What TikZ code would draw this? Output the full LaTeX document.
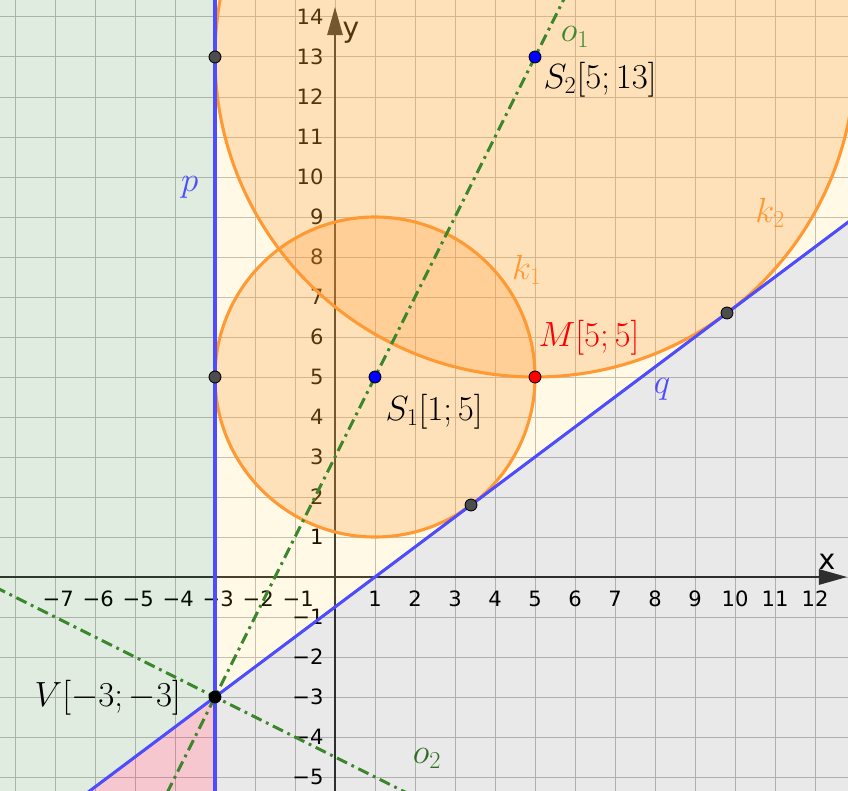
\documentclass[tikz,border=0pt]{standalone}
\usepackage{fontspec}
\newfontfamily\ggbsans{DejaVu Sans}
\usetikzlibrary{arrows.meta}
\definecolor{ggbblue}{RGB}{77,77,255}
\definecolor{ggborange}{RGB}{255,153,51}
\definecolor{ggbgreen}{RGB}{60,135,45}
\definecolor{ggbpoint}{RGB}{77,77,77}
\definecolor{ggbgrid}{RGB}{192,192,192}
\definecolor{regiongreen}{RGB}{0,100,0}
\definecolor{regionyellow}{RGB}{255,200,0}
\definecolor{regionpink}{RGB}{220,20,60}

\begin{document}
\begin{tikzpicture}[>=Latex,
  gridline/.style={draw=ggbgrid,line width=0.7pt},
  axisline/.style={draw=black!80,line width=1pt,-{Triangle[length=20pt,width=11pt]}},
  ticklbl/.style={font=\ggbsans\fontsize{15}{15}\selectfont,inner sep=0pt},
  axislbl/.style={font=\ggbsans\fontsize{20}{20}\selectfont,inner sep=0pt},
  tanline/.style={draw=ggbblue,line width=2.2pt},
  symline/.style={draw=ggbgreen,line width=2.1pt,dash pattern=on 8pt off 3.5pt on 2pt off 3.5pt},
  kcircle/.style={draw=ggborange,line width=2.2pt,fill=ggborange,fill opacity=0.25},
  dotpt/.style={circle,draw=black,line width=0.6pt,inner sep=0pt,minimum size=8.5pt},
  mathlbl/.style={font=\fontsize{24}{28}\selectfont,inner sep=0pt}]
\useasboundingbox (-8.375,-5.325) rectangle (12.825,14.425);
\clip (-8.375,-5.325) rectangle (12.825,14.425);

\foreach \gx in {-8,...,12} \draw[gridline] (\gx,-5.4) -- (\gx,14.5);
\foreach \gy in {-5,...,14} \draw[gridline] (-8.4,\gy) -- (12.9,\gy);
\coordinate (x_from) at (-8.4,0);
\coordinate (x_to) at (12.8,0);
\coordinate (y_from) at (0,-5.4);
\coordinate (y_to) at (0,14.25);
\draw[axisline] (x_from) -- (x_to);
\draw[axisline] (y_from) -- (y_to);
\node[axislbl] (lbl_x) at (12.3,0.37) {x};
\node[axislbl] (lbl_y) at (0.4,13.6) {y};
\foreach \gx in {1,...,12} \node[ticklbl] (xt_\gx) at (\gx,-0.55) {\gx};
\foreach \gx in {1,...,7} \node[ticklbl] (xtm_\gx) at (-\gx+0.08,-0.55) {−\gx};
\foreach \gy in {1,...,14} \node[ticklbl,anchor=east] (yt_\gy) at (-0.28,\gy) {\gy};
\foreach \gy in {1,...,5} \node[ticklbl,anchor=east] (ytm_\gy) at (-0.28,-\gy) {−\gy};

\fill[regiongreen,opacity=0.125] (-8.4,14.5) -- (-3,14.5) -- (-3,-3) -- (-6.2,-5.4) -- (-8.4,-5.4) -- cycle;
\fill[regionpink,opacity=0.24] (-3,-3) -- (-3,-5.4) -- (-6.2,-5.4) -- cycle;
\fill[regionyellow,opacity=0.1] (-3,14.5) -- (12.9,14.5) -- (12.9,8.925) -- (-3,-3) -- cycle;
\fill[black,opacity=0.086] (-3,-3) -- (12.9,8.925) -- (12.9,-5.4) -- (-3,-5.4) -- cycle;

\coordinate (S1) at (1,5);
\coordinate (S2) at (5,13);
\draw[kcircle] (S1) circle (4);
\draw[kcircle] (S2) circle (8);

\coordinate (p_lo) at (-3,-5.4);
\coordinate (p_hi) at (-3,14.5);
\coordinate (q_lo) at (-6.2,-5.4);
\coordinate (q_hi) at (13,9);
\coordinate (o1_lo) at (-4.2,-5.4);
\coordinate (o1_hi) at (5.75,14.5);
\coordinate (o2_lo) at (1.8,-5.4);
\coordinate (o2_hi) at (-8.5,-0.25);
\draw[symline] (o1_lo) -- (o1_hi);
\draw[symline] (o2_hi) -- (o2_lo);
\draw[tanline] (p_lo) -- (p_hi);
\draw[tanline] (q_lo) -- (q_hi);

\node[dotpt,fill=ggbpoint] (t_p1) at (-3,13) {};
\node[dotpt,fill=ggbpoint] (t_p2) at (-3,5) {};
\node[dotpt,fill=ggbpoint] (t_q1) at (3.4,1.8) {};
\node[dotpt,fill=ggbpoint] (t_q2) at (9.8,6.6) {};
\node[dotpt,fill=blue] (pt_S1) at (S1) {};
\node[dotpt,fill=blue] (pt_S2) at (S2) {};
\node[dotpt,fill=red] (pt_M) at (5,5) {};
\node[dotpt,fill=black] (pt_V) at (-3,-3) {};

\node[mathlbl,text=ggbblue] (lbl_p) at (-3.63,9.73) {$p$};
\node[mathlbl,text=ggbblue] (lbl_q) at (8.18,4.68) {$q$};
\node[mathlbl,text=ggborange] (lbl_k1) at (4.8,7.68) {$k_1$};
\node[mathlbl,text=ggborange] (lbl_k2) at (10.88,9.1) {$k_2$};
\node[mathlbl,text=ggbgreen] (lbl_o1) at (6.0,13.5) {$o_1$};
\node[mathlbl,text=ggbgreen!80!black] (lbl_o2) at (2.3,-4.53) {$o_2$};
\node[mathlbl,text=red] (lbl_M) at (6.35,5.98) {$M[5;5]$};
\node[mathlbl] (lbl_S2) at (6.63,12.43) {$S_2[5;13]$};
\node[mathlbl] (lbl_S1) at (2.48,4.13) {$S_1[1;5]$};
\node[mathlbl] (lbl_V) at (-5.68,-3.03) {$V[-3;-3]$};
\end{tikzpicture}
\end{document}
